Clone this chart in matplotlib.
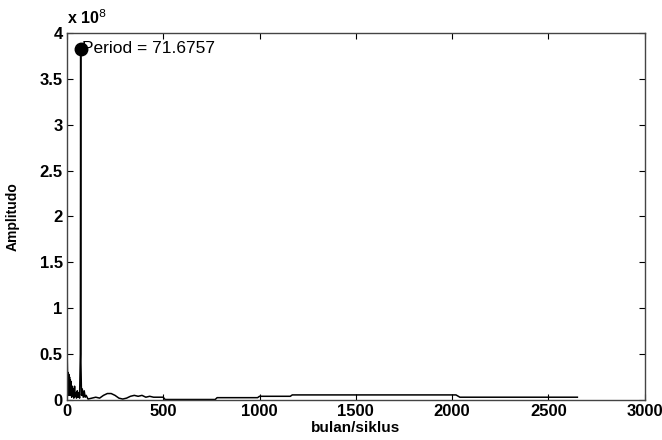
import matplotlib.pyplot as plt
import numpy as np

plt.rcParams['font.family'] = ['Liberation Sans', 'DejaVu Sans']

#%% data (amplitude in units of 1e8)

period = [2, 4, 6, 8, 10, 12, 14, 16, 18, 20, 22, 25, 28, 30, 33, 36, 40, 43,
          46, 50, 54, 58, 62, 66, 70, 71.6757, 73, 76, 80, 85, 90, 95, 100,
          110, 130, 150, 170, 190, 210, 230, 250, 270, 290, 310, 330, 350,
          370, 390, 410, 430, 450, 480, 500, 510, 620, 770, 780, 990, 1000,
          1160, 1170, 2020, 2040, 2650]
amp = [0.45, 0.2, 0.3, 0.05, 0.28, 0.1, 0.25, 0.05, 0.22, 0.08, 0.2, 0.03,
       0.15, 0.05, 0.12, 0.02, 0.15, 0.04, 0.08, 0.02, 0.1, 0.03, 0.08, 0.02,
       0.5, 3.83, 0.4, 0.05, 0.12, 0.03, 0.1, 0.03, 0.05,
       0.01, 0.02, 0.03, 0.02, 0.05, 0.07, 0.07, 0.05, 0.02, 0.01, 0.02,
       0.04, 0.05, 0.04, 0.05, 0.03, 0.04, 0.03, 0.03, 0.03, 0.005, 0.005,
       0.005, 0.025, 0.025, 0.04, 0.04, 0.055, 0.055, 0.03, 0.03]

peak_period = 71.6757
peak_amp = 3.83

#%% plot

fig = plt.figure(figsize=(6.62, 4.4), dpi=100)
ax = fig.add_axes([0.101, 0.091, 0.873, 0.834])

ax.plot(period, amp, color='k', linewidth=1.1)
ax.plot(peak_period, peak_amp, 'ko', markersize=9)
ax.text(peak_period + 8, peak_amp, 'Period = %.4f' % peak_period,
        fontsize=12.5, va='center', ha='left')

ax.set_xlim(0, 3000)
ax.set_ylim(0, 4)
ax.set_xticks([0, 500, 1000, 1500, 2000, 2500, 3000])
ax.set_yticks([0, 0.5, 1, 1.5, 2, 2.5, 3, 3.5, 4])
ax.set_yticklabels(['0', '0.5', '1', '1.5', '2', '2.5', '3', '3.5', '4'])
ax.tick_params(direction='in', top=True, right=True, length=4,
               labelsize=12, pad=3)
for lab in ax.get_xticklabels() + ax.get_yticklabels():
    lab.set_fontweight('bold')
for s in ax.spines.values():
    s.set_linewidth(1.0)
    s.set_color('#444444')

ax.set_xlabel('bulan/siklus', fontsize=11, fontweight='bold', labelpad=1)
ax.set_ylabel('Amplitudo', fontsize=10, fontweight='bold', labelpad=14)
ax.text(0.0, 1.015, r'x 10$^{8}$', transform=ax.transAxes, fontsize=11.5,
        fontweight='bold', ha='left', va='bottom')

plt.savefig('out.png', dpi=100)
